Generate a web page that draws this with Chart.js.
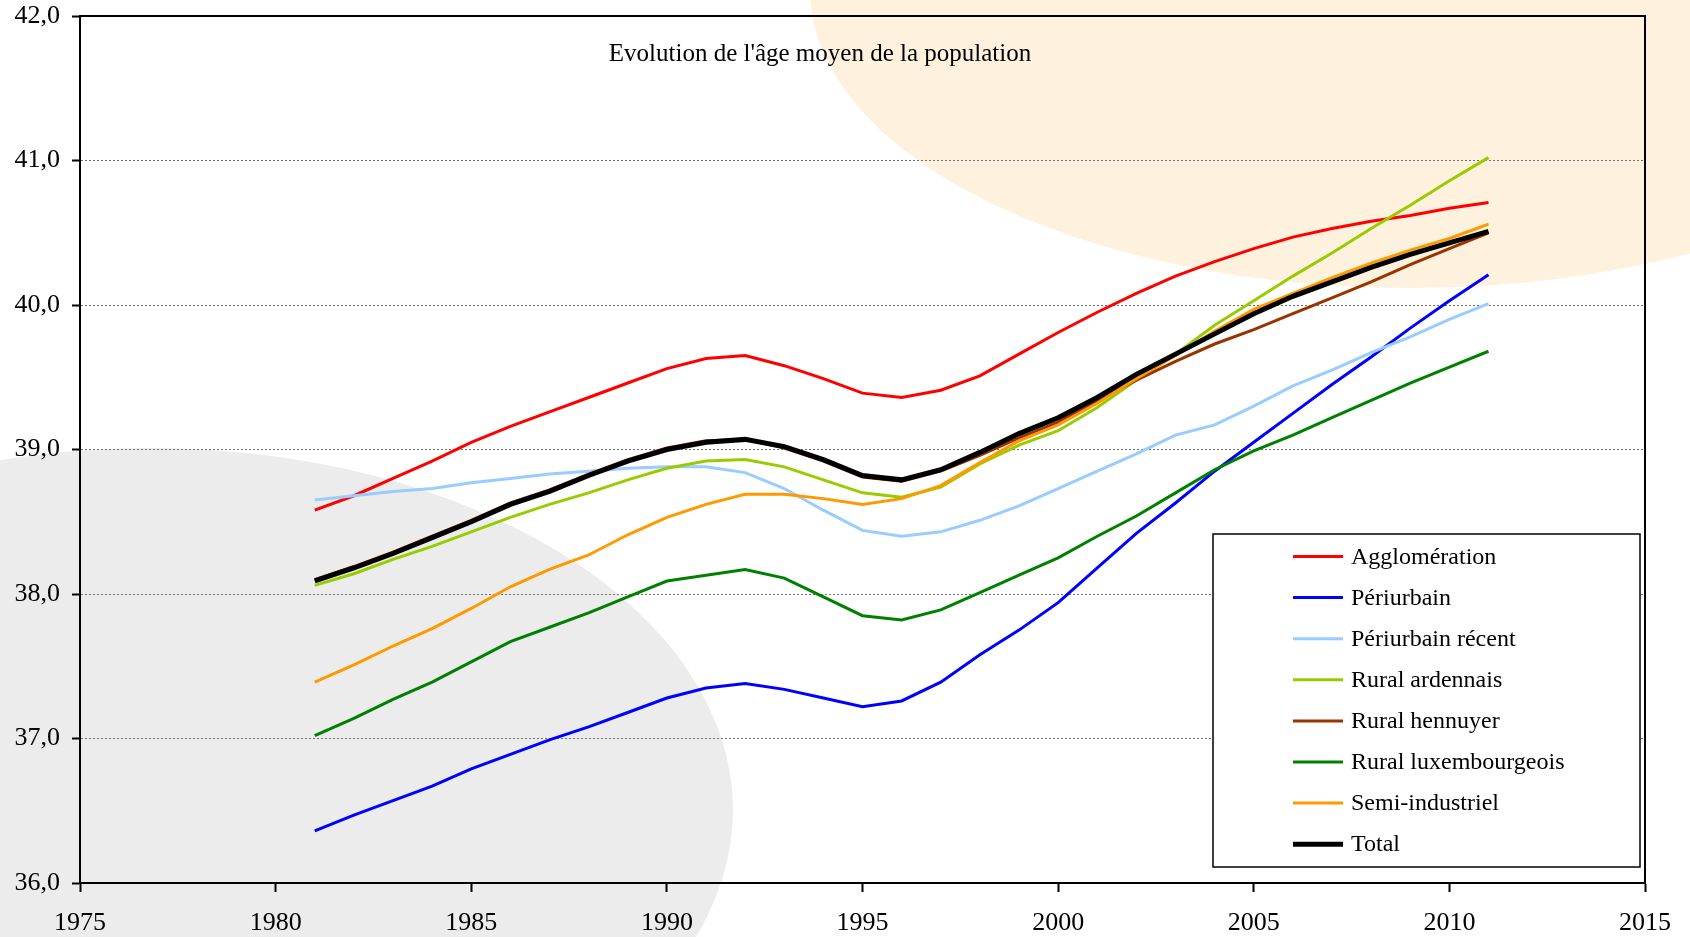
<!DOCTYPE html>
<html lang="fr">
<head>
<meta charset="utf-8">
<title>Evolution de l'âge moyen de la population</title>
<script src="https://cdn.jsdelivr.net/npm/chart.js@4.4.1/dist/chart.umd.min.js"></script>
<style>
  html, body { margin: 0; padding: 0; background: #fff; }
  #wrap { position: relative; width: 1690px; height: 937px; }
</style>
</head>
<body>
<div id="wrap"><canvas id="age-chart" width="1690" height="937"></canvas></div>
<script>
/* ═══════════════════════════════════════════════
   Age moyen de la population — line chart
   ═══════════════════════════════════════════════ */

const chartTitle = "Evolution de l'âge moyen de la population";

const years = [1981, 1982, 1983, 1984, 1985, 1986, 1987, 1988, 1989, 1990,
  1991, 1992, 1993, 1994, 1995, 1996, 1997, 1998, 1999, 2000,
  2001, 2002, 2003, 2004, 2005, 2006, 2007, 2008, 2009, 2010, 2011];

const agglomeration = [38.58, 38.68, 38.80, 38.92, 39.05, 39.16, 39.26, 39.36, 39.46, 39.56,
  39.63, 39.65, 39.58, 39.49, 39.39, 39.36, 39.41, 39.51, 39.66, 39.81,
  39.95, 40.08, 40.20, 40.30, 40.39, 40.47, 40.53, 40.58, 40.62, 40.67, 40.71];

const periurbain = [36.36, 36.47, 36.57, 36.67, 36.79, 36.89, 36.99, 37.08, 37.18, 37.28,
  37.35, 37.38, 37.34, 37.28, 37.22, 37.26, 37.39, 37.58, 37.75, 37.94,
  38.18, 38.42, 38.63, 38.85, 39.05, 39.25, 39.45, 39.64, 39.84, 40.03, 40.21];

const periurbainRecent = [38.65, 38.68, 38.71, 38.73, 38.77, 38.80, 38.83, 38.85, 38.87, 38.88,
  38.88, 38.84, 38.73, 38.58, 38.44, 38.40, 38.43, 38.51, 38.61, 38.73,
  38.85, 38.97, 39.10, 39.17, 39.30, 39.44, 39.55, 39.67, 39.78, 39.90, 40.01];

const ruralArdennais = [38.06, 38.14, 38.24, 38.33, 38.43, 38.53, 38.62, 38.70, 38.79, 38.87,
  38.92, 38.93, 38.88, 38.79, 38.70, 38.67, 38.74, 38.90, 39.03, 39.13,
  39.29, 39.48, 39.66, 39.86, 40.03, 40.20, 40.36, 40.53, 40.69, 40.86, 41.02];

const ruralHennuyer = [38.10, 38.19, 38.29, 38.40, 38.51, 38.63, 38.72, 38.83, 38.93, 39.01,
  39.06, 39.07, 39.01, 38.92, 38.81, 38.78, 38.85, 38.96, 39.08, 39.19,
  39.34, 39.48, 39.61, 39.73, 39.83, 39.94, 40.05, 40.16, 40.28, 40.39, 40.50];

const ruralLuxembourgeois = [37.02, 37.14, 37.27, 37.39, 37.53, 37.67, 37.77, 37.87, 37.98, 38.09,
  38.13, 38.17, 38.11, 37.98, 37.85, 37.82, 37.89, 38.01, 38.13, 38.25,
  38.40, 38.54, 38.70, 38.86, 38.99, 39.10, 39.22, 39.34, 39.46, 39.57, 39.68];

const semiIndustriel = [37.39, 37.51, 37.64, 37.76, 37.90, 38.05, 38.17, 38.27, 38.41, 38.53,
  38.62, 38.69, 38.69, 38.66, 38.62, 38.66, 38.75, 38.91, 39.06, 39.17,
  39.32, 39.49, 39.65, 39.82, 39.97, 40.08, 40.19, 40.29, 40.38, 40.46, 40.56];

const total = [38.09, 38.18, 38.28, 38.39, 38.50, 38.62, 38.71, 38.82, 38.92, 39.00,
  39.05, 39.07, 39.02, 38.93, 38.82, 38.79, 38.86, 38.98, 39.11, 39.22,
  39.36, 39.52, 39.66, 39.80, 39.94, 40.06, 40.16, 40.26, 40.35, 40.43, 40.51];

const seriesNames = ['Agglomération', 'Périurbain', 'Périurbain récent', 'Rural ardennais',
  'Rural hennuyer', 'Rural luxembourgeois', 'Semi-industriel', 'Total'];
const seriesValues = [agglomeration, periurbain, periurbainRecent, ruralArdennais,
  ruralHennuyer, ruralLuxembourgeois, semiIndustriel, total];
const seriesColors = ['#ff0000', '#0000ff', '#99ccff', '#99cc00',
  '#993300', '#008000', '#ff9900', '#000000'];

const xTicks = [1975, 1980, 1985, 1990, 1995, 2000, 2005, 2010, 2015];
const yTicks = [36, 37, 38, 39, 40, 41, 42];
const yTickLabels = ['36,0', '37,0', '38,0', '39,0', '40,0', '41,0', '42,0'];

const SERIF = '"Liberation Serif", "Times New Roman", serif';

// page decoration: grey disc bottom-left, cream disc top-right
const backdrop = {
  id: 'backdrop',
  beforeDraw(chart) {
    const { ctx, width, height } = chart;
    ctx.save();
    ctx.fillStyle = '#ffffff';
    ctx.fillRect(0, 0, width, height);
    ctx.fillStyle = '#ececec';
    ctx.beginPath();
    ctx.ellipse(150, 810, 583, 362, 0, 0, Math.PI * 2);
    ctx.fill();
    ctx.fillStyle = '#fef2df';
    ctx.beginPath();
    ctx.ellipse(1410, -10, 600, 298, 0, 0, Math.PI * 2);
    ctx.fill();
    ctx.restore();
  }
};

// top/right frame, title inside the plot, boxed legend lower right
const frameAndLegend = {
  id: 'frameAndLegend',
  afterDraw(chart) {
    const { ctx, chartArea: a } = chart;
    ctx.save();
    ctx.strokeStyle = '#000';
    ctx.lineWidth = 2;
    ctx.beginPath();
    ctx.moveTo(a.left, a.top);
    ctx.lineTo(a.right, a.top);
    ctx.lineTo(a.right, a.bottom);
    ctx.stroke();

    ctx.fillStyle = '#000';
    ctx.font = '25px ' + SERIF;
    ctx.textAlign = 'center';
    ctx.textBaseline = 'middle';
    ctx.fillText(chartTitle, 820, a.top + 38);

    const bw = 427, bh = 333;
    const bx = a.right - 5 - bw;
    const by = a.bottom - 16 - bh;
    ctx.fillStyle = '#fff';
    ctx.fillRect(bx, by, bw, bh);
    ctx.lineWidth = 1.5;
    ctx.strokeStyle = '#000';
    ctx.strokeRect(bx, by, bw, bh);

    ctx.font = '24px ' + SERIF;
    ctx.textAlign = 'left';
    chart.data.datasets.forEach((ds, i) => {
      const y = by + 22.5 + i * 41.1;
      ctx.strokeStyle = ds.borderColor;
      ctx.lineWidth = ds.borderWidth;
      ctx.beginPath();
      ctx.moveTo(bx + 80, y);
      ctx.lineTo(bx + 130, y);
      ctx.stroke();
      ctx.fillStyle = '#000';
      ctx.fillText(ds.label, bx + 138, y + 1);
    });
    ctx.restore();
  }
};

const datasets = seriesNames.map((name, i) => ({
  label: name,
  data: years.map((yr, j) => ({ x: yr, y: seriesValues[i][j] })),
  borderColor: seriesColors[i],
  backgroundColor: seriesColors[i],
  borderWidth: name === 'Total' ? 5 : 3,
  pointRadius: 0,
  tension: 0,
  fill: false,
  order: seriesNames.length - i,
}));

new Chart(document.getElementById('age-chart'), {
  type: 'line',
  data: { datasets },
  plugins: [backdrop, frameAndLegend],
  options: {
    responsive: false,
    animation: false,
    layout: { padding: { top: 16, right: 45, left: 0, bottom: 0 } },
    plugins: {
      legend: { display: false },
      tooltip: { enabled: false },
    },
    scales: {
      x: {
        type: 'linear',
        min: 1975,
        max: 2015,
        afterFit(scale) { scale.height = 54; },
        afterBuildTicks(scale) { scale.ticks = xTicks.map((v) => ({ value: v })); },
        ticks: {
          color: '#000',
          font: { family: SERIF, size: 26 },
          padding: 16,
          maxRotation: 0,
          autoSkip: false,
          callback: (v) => String(v),
        },
        grid: { drawOnChartArea: false, tickColor: '#000', tickLength: 9, tickWidth: 2 },
        border: { color: '#000', width: 2 },
      },
      y: {
        min: 36,
        max: 42,
        afterFit(scale) {
          scale.width = 80;
          scale.paddingTop = 0;
          scale.paddingBottom = 0;
        },
        afterBuildTicks(scale) { scale.ticks = yTicks.map((v) => ({ value: v })); },
        ticks: {
          color: '#000',
          font: { family: SERIF, size: 26 },
          padding: 12,
          callback: (v) => yTickLabels[yTicks.indexOf(v)],
        },
        grid: {
          color: (c) => (c.tick && (c.tick.value === 36 || c.tick.value === 42)) ? 'rgba(0,0,0,0)' : '#707070',
          lineWidth: 1,
          tickColor: '#000',
          tickLength: 8,
          tickWidth: 2,
        },
        border: { color: '#000', width: 2, dash: [2, 2] },
      },
    },
  },
});
</script>
</body>
</html>
